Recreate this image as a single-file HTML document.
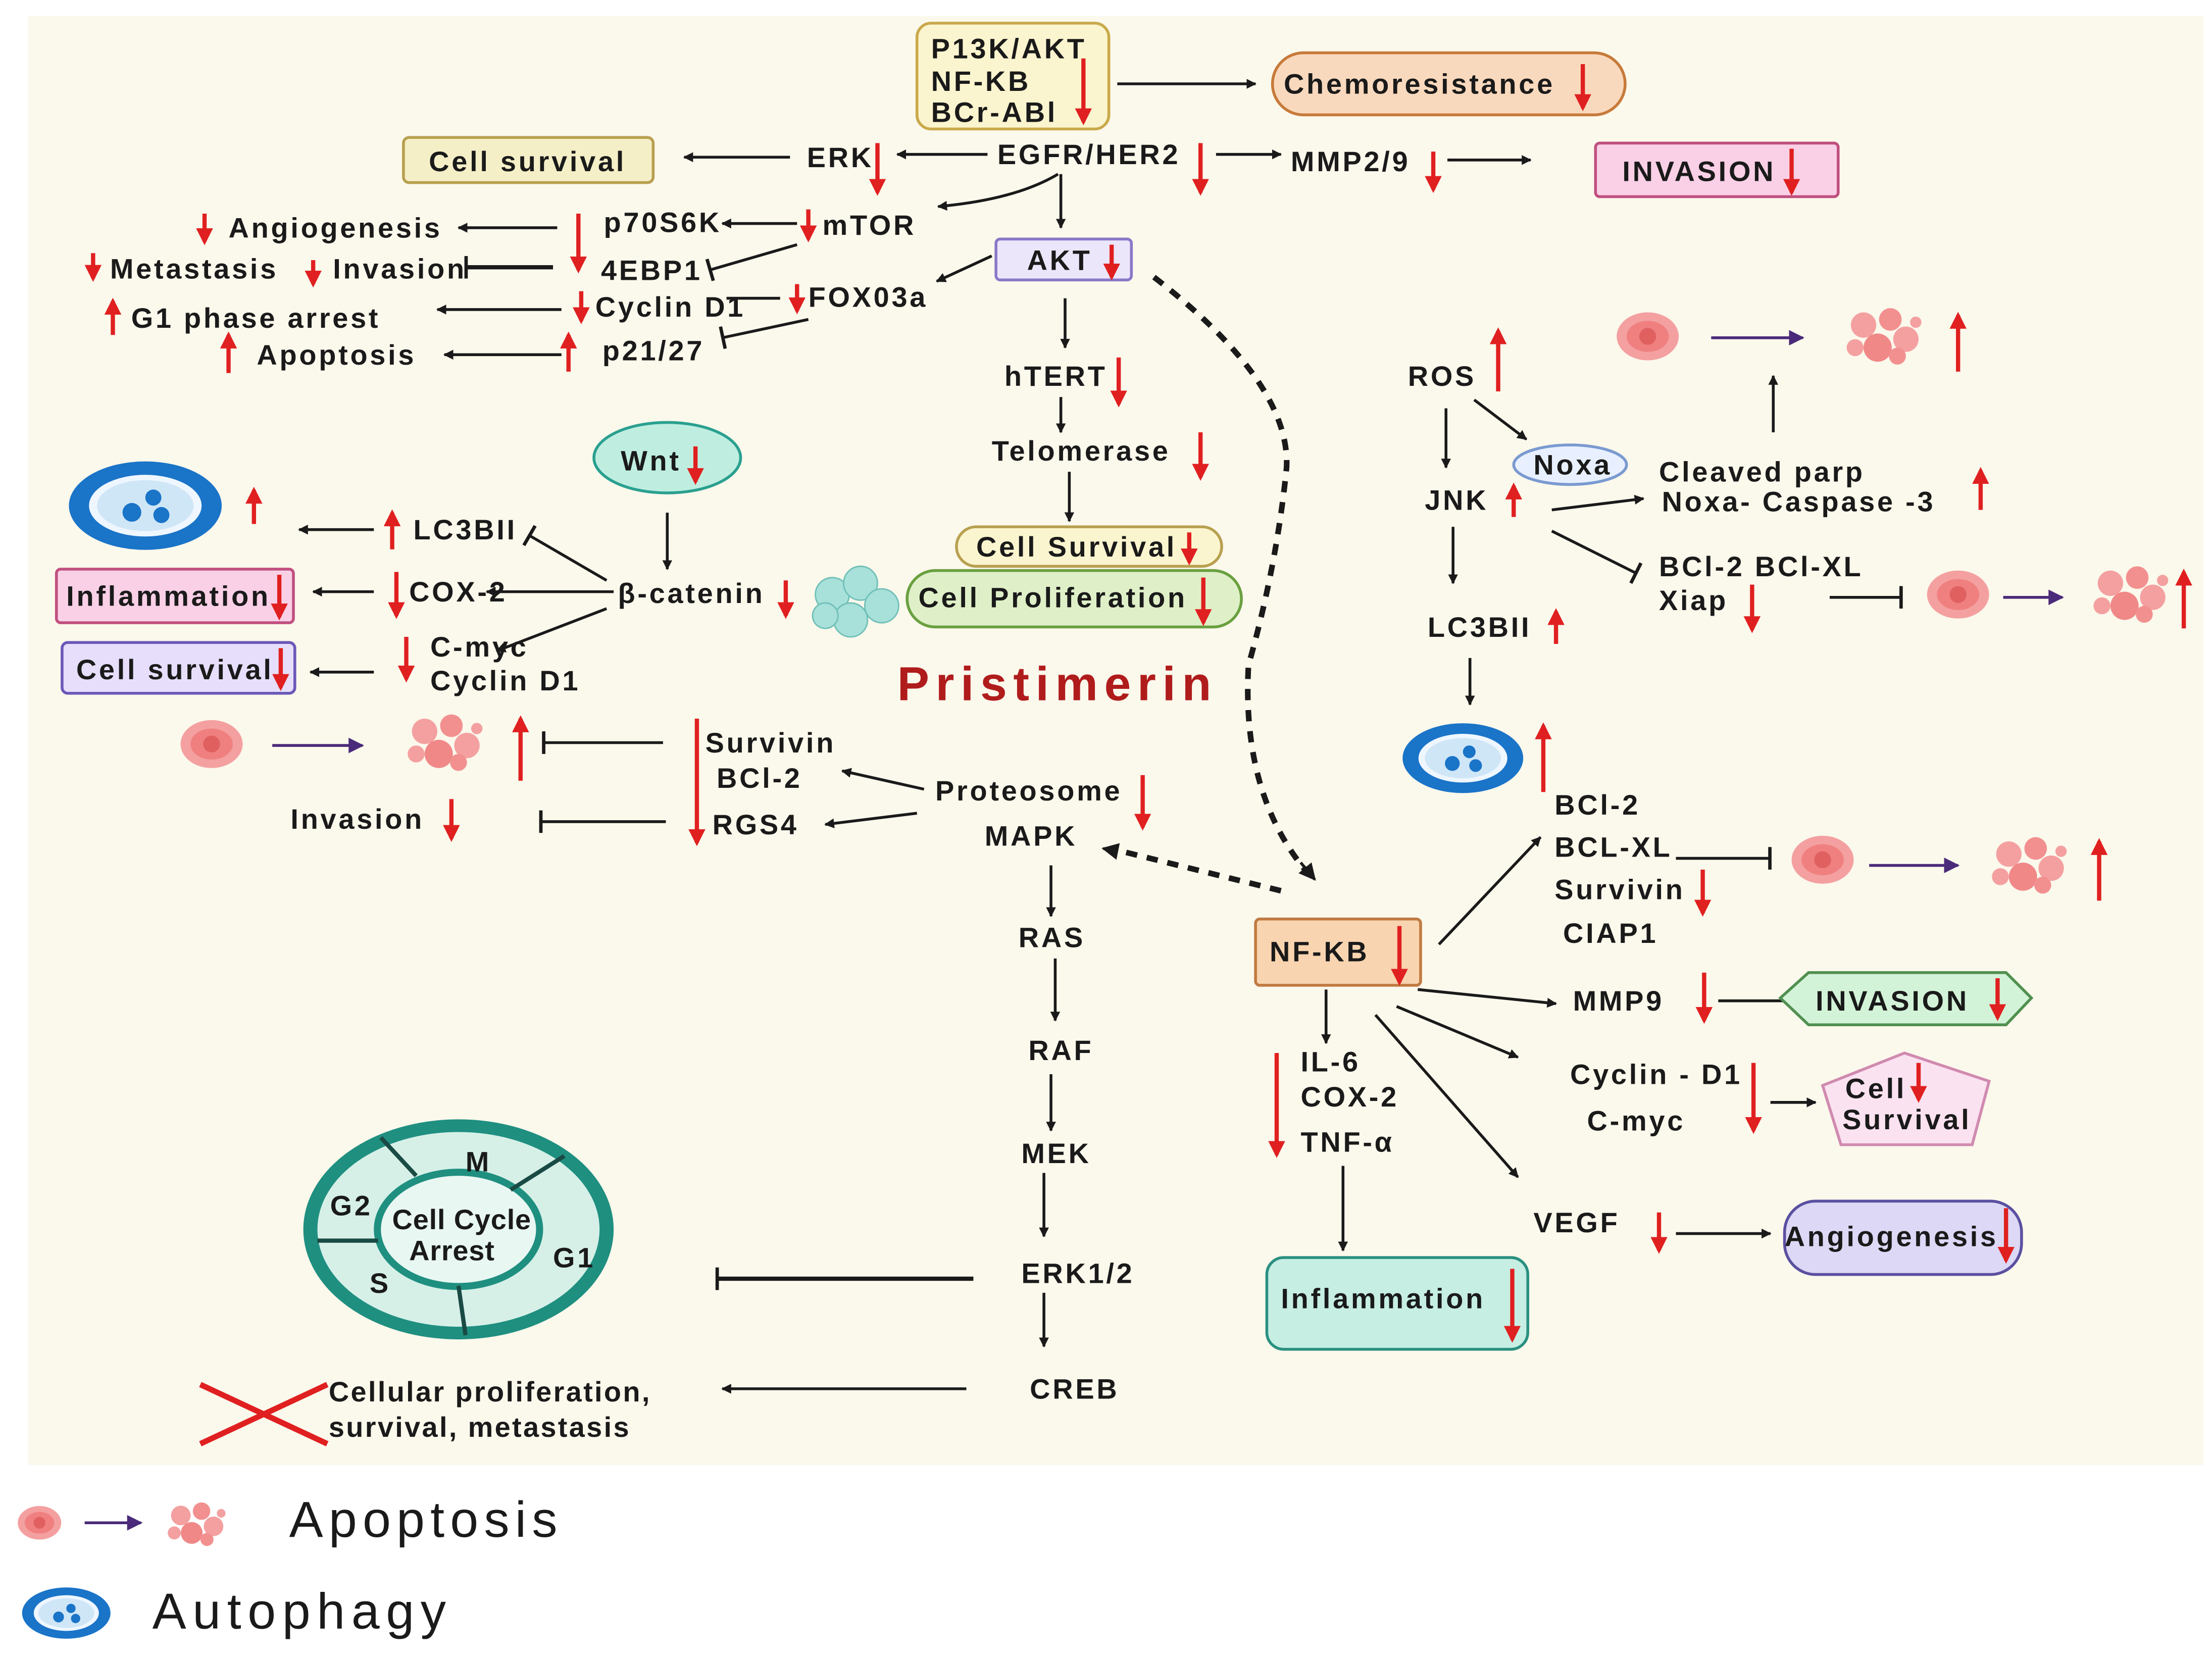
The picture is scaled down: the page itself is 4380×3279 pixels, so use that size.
<!DOCTYPE html>
<html><head><meta charset="utf-8">
<style>
html,body{margin:0;padding:0;background:#fff;}
svg{display:block;}
text{font-family:"Liberation Sans",sans-serif;font-weight:bold;font-size:20px;letter-spacing:1.7px;fill:#1a1a1a;}
.k{stroke:#1a1a1a;stroke-width:2;fill:none;marker-end:url(#kh);}
.kt{stroke:#1a1a1a;stroke-width:2;fill:none;marker-end:url(#tee);}
.r{stroke:#e02020;stroke-width:3;fill:none;marker-end:url(#rh);}
.p{stroke:#4a2a7a;stroke-width:2;fill:none;marker-end:url(#ph);}
.dash{stroke:#1a1a1a;stroke-width:4;stroke-dasharray:8 7;fill:none;}
</style></head><body>
<svg width="4380" height="3279" viewBox="0 0 1568 1171" xmlns="http://www.w3.org/2000/svg">
<defs>
<marker id="kh" viewBox="0 0 10 10" refX="9" refY="5" markerWidth="7" markerHeight="7" orient="auto" markerUnits="userSpaceOnUse"><path d="M0,0 L10,5 L0,10z" fill="#1a1a1a"/></marker>
<marker id="kh2" viewBox="0 0 10 10" refX="9" refY="5" markerWidth="12" markerHeight="12" orient="auto" markerUnits="userSpaceOnUse"><path d="M0,0 L10,5 L0,10z" fill="#1a1a1a"/></marker>
<marker id="rh" viewBox="0 0 10 10" refX="8" refY="5" markerWidth="12" markerHeight="12" orient="auto" markerUnits="userSpaceOnUse"><path d="M0,0 L10,5 L0,10z" fill="#e02020"/></marker>
<marker id="ph" viewBox="0 0 10 10" refX="9" refY="5" markerWidth="11" markerHeight="11" orient="auto" markerUnits="userSpaceOnUse"><path d="M0,0 L10,5 L0,10z" fill="#4a2a7a"/></marker>
<marker id="tee" viewBox="0 0 4 20" refX="2" refY="10" markerWidth="4" markerHeight="16" orient="auto" markerUnits="userSpaceOnUse"><rect x="0" y="0" width="3" height="20" fill="#1a1a1a"/></marker>
<symbol id="cell" viewBox="-25 -20 50 40"><ellipse cx="0" cy="0" rx="22" ry="17" fill="#f4a0a0"/><ellipse cx="0" cy="0" rx="15" ry="11" fill="#f08080"/><circle cx="0" cy="0" r="6" fill="#e06060"/></symbol>
<symbol id="frag" viewBox="-30 -22 60 44"><circle cx="-14" cy="-8" r="9" fill="#f4a0a0"/><circle cx="5" cy="-12" r="8" fill="#f29090"/><circle cx="16" cy="2" r="9" fill="#f4a0a0"/><circle cx="-4" cy="8" r="10" fill="#f08888"/><circle cx="-20" cy="8" r="6" fill="#f4a0a0"/><circle cx="10" cy="14" r="6" fill="#f29090"/><circle cx="23" cy="-10" r="4" fill="#f4a0a0"/></symbol>
<symbol id="auto" viewBox="-60 -36 120 72"><ellipse cx="0" cy="0" rx="57" ry="33" fill="#1a74c8"/><ellipse cx="0" cy="0" rx="42" ry="23" fill="#eef6ff"/><ellipse cx="0" cy="0" rx="36" ry="19" fill="#cfe6f7"/><circle cx="-10" cy="5" r="7" fill="#1a74c8"/><circle cx="6" cy="-6" r="6" fill="#1a74c8"/><circle cx="12" cy="7" r="6" fill="#1a74c8"/></symbol>
</defs>
<rect x="0" y="0" width="1568" height="1171" fill="#fff"/>
<rect x="20" y="10" width="1542" height="1027" fill="#fbf8ec"/>

<rect x="650" y="15" width="136" height="75" rx="10" fill="#fbf5cf" stroke="#c9a94a" stroke-width="2"/>
<text x="660" y="40">P13K/AKT</text><text x="660" y="63">NF-KB</text><text x="660" y="85">BCr-ABl</text>
<path class="r" d="M768 40V85"/>
<path class="k" d="M792 58H890"/>
<rect x="902" y="36" width="250" height="44" rx="22" fill="#f9d9bd" stroke="#c77a3a" stroke-width="2"/>
<text x="910" y="65">Chemoresistance</text><path class="r" d="M1122 44V75"/>
<rect x="286" y="96" width="177" height="32" rx="4" fill="#f5efc8" stroke="#b8a050" stroke-width="2"/>
<text x="304" y="120">Cell survival</text>
<path class="k" d="M560 110H485"/>
<text x="572" y="117">ERK</text><path class="r" d="M622 100V135"/>
<path class="k" d="M700 108H636"/>
<text x="707" y="115">EGFR/HER2</text><path class="r" d="M851 100V135"/>
<path class="k" d="M862 108H908"/>
<text x="915" y="120">MMP2/9</text><path class="r" d="M1016 106V133"/>
<path class="k" d="M1026 112H1085"/>
<rect x="1131" y="100" width="172" height="38" rx="3" fill="#f9d0e6" stroke="#c0507f" stroke-width="2"/>
<text x="1150" y="127">INVASION</text><path class="r" d="M1270 104V135"/>
<path class="k" d="M750 122 Q720 140 665 145"/>
<path class="k" d="M752 122V160"/>
<text x="583" y="165">mTOR</text><path class="r" d="M573 147V168"/>
<path class="k" d="M565 157H512"/>
<text x="428" y="163">p70S6K</text>
<path class="k" d="M395 160H325"/>
<text x="162" y="167">Angiogenesis</text><path class="r" d="M145 150V170"/>
<path class="r" d="M410 150V190"/>
<text x="426" y="197">4EBP1</text>
<path class="kt" d="M565 172L503 190"/>
<text x="236" y="196">Invasion</text><text x="78" y="196">Metastasis</text>
<path class="r" d="M66 178V196"/><path class="r" d="M222 183V200"/>
<path d="M392 188H330" stroke="#1a1a1a" stroke-width="3" marker-end="url(#tee)"/>
<text x="422" y="223">Cyclin D1</text><path class="r" d="M412 205V226"/>
<path d="M553 210H515" stroke="#1a1a1a" stroke-width="2"/>
<text x="573" y="216">FOX03a</text><path class="r" d="M565 200V219"/>
<path class="k" d="M398 218H310"/>
<text x="93" y="231">G1 phase arrest</text><path class="r" d="M80 236V212"/>
<rect x="706" y="168" width="96" height="29" rx="3" fill="#ece6fb" stroke="#8a78c8" stroke-width="2"/>
<text x="728" y="190">AKT</text><path class="r" d="M788 172V195"/>
<path class="k" d="M703 180L664 198"/>
<text x="427" y="254">p21/27</text><path class="r" d="M403 262V236"/>
<path class="k" d="M398 250H315"/>
<text x="182" y="257">Apoptosis</text><path class="r" d="M162 263V236"/>
<path class="kt" d="M573 225L512 238"/>
<path class="dash" d="M818 195 Q915 270 912 330 Q905 400 885 470 Q880 560 925 615"/>
<path d="M922 610 L932 622" stroke="#1a1a1a" stroke-width="2" marker-end="url(#kh2)"/>
<path class="k" d="M755 210V245"/>
<text x="712" y="272">hTERT</text><path class="r" d="M793 252V285"/>
<path class="k" d="M752 280V305"/>
<text x="703" y="325">Telomerase</text><path class="r" d="M851 305V337"/>
<path class="k" d="M758 333V368"/>
<rect x="678" y="372" width="188" height="28" rx="14" fill="#fbf5cf" stroke="#b8a050" stroke-width="2"/>
<text x="692" y="393">Cell Survival</text><path class="r" d="M843 376V397"/>
<rect x="643" y="403" width="237" height="40" rx="20" fill="#dff0c8" stroke="#6aa040" stroke-width="2"/>
<text x="651" y="429">Cell Proliferation</text><path class="r" d="M853 408V440"/>
<g fill="#a8e0da" stroke="#70c0b8" stroke-width="1"><circle cx="590" cy="420" r="12"/><circle cx="610" cy="412" r="12"/><circle cx="625" cy="428" r="12"/><circle cx="603" cy="438" r="12"/><circle cx="585" cy="435" r="9"/></g>

<ellipse cx="473" cy="323" rx="52" ry="25" fill="#bfeee0" stroke="#2aa090" stroke-width="2"/>
<text x="440" y="332">Wnt</text><path class="r" d="M493 315V340"/>
<path class="k" d="M473 362V402"/>
<text x="438" y="426">β-catenin</text><path class="r" d="M557 410V435"/>
<text x="293" y="381">LC3BII</text><path class="r" d="M278 388V362"/>
<path class="k" d="M265 374H212"/>
<path class="kt" d="M430 410L375 378"/>
<use href="#auto" x="46" y="321" width="114" height="72"/>
<path class="r" d="M180 370V346"/>
<rect x="40" y="402" width="168" height="38" rx="3" fill="#f9d0e6" stroke="#c0507f" stroke-width="2"/>
<text x="47" y="428">Inflammation</text><path class="r" d="M198 406V436"/>
<path class="k" d="M265 418H222"/>
<text x="290" y="425">COX-2</text><path class="r" d="M281 404V435"/>
<path class="k" d="M435 418H345"/>
<rect x="44" y="454" width="165" height="36" rx="4" fill="#e6defa" stroke="#6a58b8" stroke-width="2"/>
<text x="54" y="480">Cell survival</text><path class="r" d="M199 458V486"/>
<path class="k" d="M265 475H220"/>
<text x="305" y="464">C-myc</text><text x="305" y="488">Cyclin D1</text>
<path class="r" d="M288 450V480"/>
<path class="k" d="M430 430L352 460"/>
<text x="636" y="495" style="font-size:34px;fill:#b01c1c;letter-spacing:4.5px">Pristimerin</text>

<use href="#cell" x="125" y="506" width="50" height="40"/>
<path class="p" d="M193 527H257"/>
<use href="#frag" x="285" y="503" width="60" height="44"/>
<path class="r" d="M369 552V508"/>
<path class="kt" d="M470 525H385"/>
<text x="500" y="532">Survivin</text><text x="508" y="557">BCl-2</text><text x="505" y="590">RGS4</text>
<path class="r" d="M494 508V596"/>
<text x="663" y="566">Proteosome</text><path class="r" d="M810 548V585"/>
<path class="k" d="M655 558L597 545"/>
<path class="k" d="M650 575L585 583"/>
<text x="206" y="586">Invasion</text><path class="r" d="M320 565V593"/>
<path class="kt" d="M472 581H383"/>
<text x="698" y="598">MAPK</text>
<path class="dash" d="M908 630L795 602"/>
<path d="M792 602L782 600" stroke="#1a1a1a" stroke-width="2" marker-end="url(#kh2)"/>
<path class="k" d="M745 612V648"/>
<text x="722" y="670">RAS</text>
<path class="k" d="M748 678V722"/>
<text x="729" y="750">RAF</text>
<path class="k" d="M745 760V800"/>
<text x="724" y="823">MEK</text>
<path class="k" d="M740 830V875"/>
<text x="724" y="908">ERK1/2</text>
<path class="k" d="M740 915V953"/>
<text x="730" y="990">CREB</text>

<ellipse cx="325" cy="870" rx="110" ry="78" fill="#1f8f80"/>
<ellipse cx="325" cy="870" rx="100" ry="69" fill="#d6f0e8"/>
<ellipse cx="325" cy="870" rx="60" ry="43" fill="#1f8f80"/>
<ellipse cx="325" cy="870" rx="55" ry="38" fill="#e8f7f2"/>
<g stroke="#1a4a44" stroke-width="3"><line x1="270" y1="805" x2="295" y2="832"/><line x1="400" y1="818" x2="362" y2="842"/><line x1="225" y1="878" x2="268" y2="878"/><line x1="325" y1="910" x2="330" y2="945"/></g>
<text x="330" y="829">M</text><text x="234" y="860">G2</text><text x="392" y="897">G1</text><text x="262" y="915">S</text>
<text x="278" y="870" style="letter-spacing:0.3px">Cell Cycle</text><text x="290" y="892" style="letter-spacing:0.3px">Arrest</text>
<path d="M690 905H508" stroke="#1a1a1a" stroke-width="3" marker-end="url(#tee)"/>
<g stroke="#e02020" stroke-width="4"><line x1="142" y1="1022" x2="232" y2="980"/><line x1="142" y1="980" x2="232" y2="1022"/></g>
<text x="233" y="992" style="font-size:20px;letter-spacing:1.2px">Cellular proliferation,</text>
<text x="233" y="1017" style="font-size:20px;letter-spacing:1.2px">survival, metastasis</text>
<path class="k" d="M685 983H512"/>

<use href="#cell" x="1143" y="217" width="50" height="40"/>
<path class="p" d="M1213 238H1278"/>
<use href="#frag" x="1305" y="215" width="60" height="44"/>
<path class="r" d="M1388 262V222"/>
<path class="k" d="M1257 305V265"/>
<text x="998" y="272">ROS</text><path class="r" d="M1062 276V233"/>
<path class="k" d="M1025 288V330"/>
<path class="k" d="M1045 282L1082 310"/>
<ellipse cx="1113" cy="328" rx="40" ry="14" fill="#e8f0ff" stroke="#7a9ad0" stroke-width="2"/>
<text x="1087" y="335">Noxa</text>
<text x="1010" y="360">JNK</text><path class="r" d="M1073 365V343"/>
<path class="k" d="M1100 360L1165 352"/>
<path class="kt" d="M1100 375L1160 405"/>
<text x="1176" y="340">Cleaved parp</text><text x="1178" y="361">Noxa- Caspase -3</text>
<path class="r" d="M1404 360V332"/>
<text x="1176" y="407">BCl-2 BCl-XL</text><text x="1176" y="431">Xiap</text>
<path class="r" d="M1242 413V445"/>
<path class="kt" d="M1297 422H1348"/>
<use href="#cell" x="1363" y="400" width="50" height="40"/>
<path class="p" d="M1420 422H1462"/>
<use href="#frag" x="1480" y="398" width="60" height="44"/>
<path class="r" d="M1548 444V404"/>
<path class="k" d="M1030 372V412"/>
<text x="1012" y="450">LC3BII</text><path class="r" d="M1103 455V432"/>
<path class="k" d="M1042 465V498"/>
<use href="#auto" x="992" y="506" width="90" height="60"/>
<path class="r" d="M1094 560V513"/>
<text x="1102" y="576">BCl-2</text><text x="1102" y="606">BCL-XL</text><text x="1102" y="636">Survivin</text><text x="1108" y="667">CIAP1</text>
<path class="r" d="M1207 615V646"/>
<path class="kt" d="M1188 607H1255"/>
<use href="#cell" x="1267" y="588" width="50" height="40"/>
<path class="p" d="M1325 612H1388"/>
<use href="#frag" x="1408" y="590" width="60" height="44"/>
<path class="r" d="M1488 637V595"/>
<rect x="890" y="650" width="117" height="47" rx="3" fill="#f8d4b0" stroke="#c07a40" stroke-width="2"/>
<text x="900" y="680">NF-KB</text><path class="r" d="M992 655V695"/>
<path class="k" d="M1020 668L1092 592"/>
<path class="k" d="M1005 700L1103 710"/>
<text x="1115" y="715">MMP9</text><path class="r" d="M1208 688V722"/>
<path class="k" d="M1218 708H1278"/>
<path d="M1262 706 L1282 688 H1422 L1440 706 L1422 725 H1282 Z" fill="#d3f3d8" stroke="#509050" stroke-width="2"/>
<text x="1287" y="715">INVASION</text><path class="r" d="M1416 692V720"/>
<path class="k" d="M990 712L1076 748"/>
<text x="1113" y="767">Cyclin - D1</text><text x="1125" y="800">C-myc</text>
<path class="r" d="M1243 752V800"/>
<path class="k" d="M1255 780H1287"/>
<path d="M1292 768 L1350 745 L1410 765 L1398 810 H1305 Z" fill="#fbe2f0" stroke="#d08ab0" stroke-width="2"/>
<text x="1308" y="777">Cell</text><text x="1306" y="799">Survival</text>
<path class="r" d="M1360 752V778"/>
<path class="k" d="M975 718L1076 833"/>
<text x="1087" y="872">VEGF</text><path class="r" d="M1176 858V885"/>
<path class="k" d="M1188 873H1255"/>
<rect x="1265" y="850" width="168" height="52" rx="22" fill="#dcd8f5" stroke="#5a50a0" stroke-width="2"/>
<text x="1265" y="882">Angiogenesis</text><path class="r" d="M1422 855V892"/>
<path class="k" d="M940 700V738"/>
<text x="922" y="758">IL-6</text><text x="922" y="783">COX-2</text><text x="922" y="815">TNF-α</text>
<path class="r" d="M905 745V817"/>
<path class="k" d="M952 825V885"/>
<rect x="898" y="890" width="185" height="65" rx="12" fill="#c6eee3" stroke="#2a9080" stroke-width="2"/>
<text x="908" y="926">Inflammation</text><path class="r" d="M1072 898V948"/>

<use href="#cell" x="10" y="1064" width="36" height="28"/>
<path class="p" d="M60 1078H100"/>
<use href="#frag" x="115" y="1062" width="48" height="34"/>
<text x="205" y="1088" style="font-size:36px;font-weight:normal;letter-spacing:4px">Apoptosis</text>
<use href="#auto" x="14" y="1122" width="66" height="40"/>
<text x="108" y="1153" style="font-size:36px;font-weight:normal;letter-spacing:4.5px">Autophagy</text>
</svg>
</body></html>
